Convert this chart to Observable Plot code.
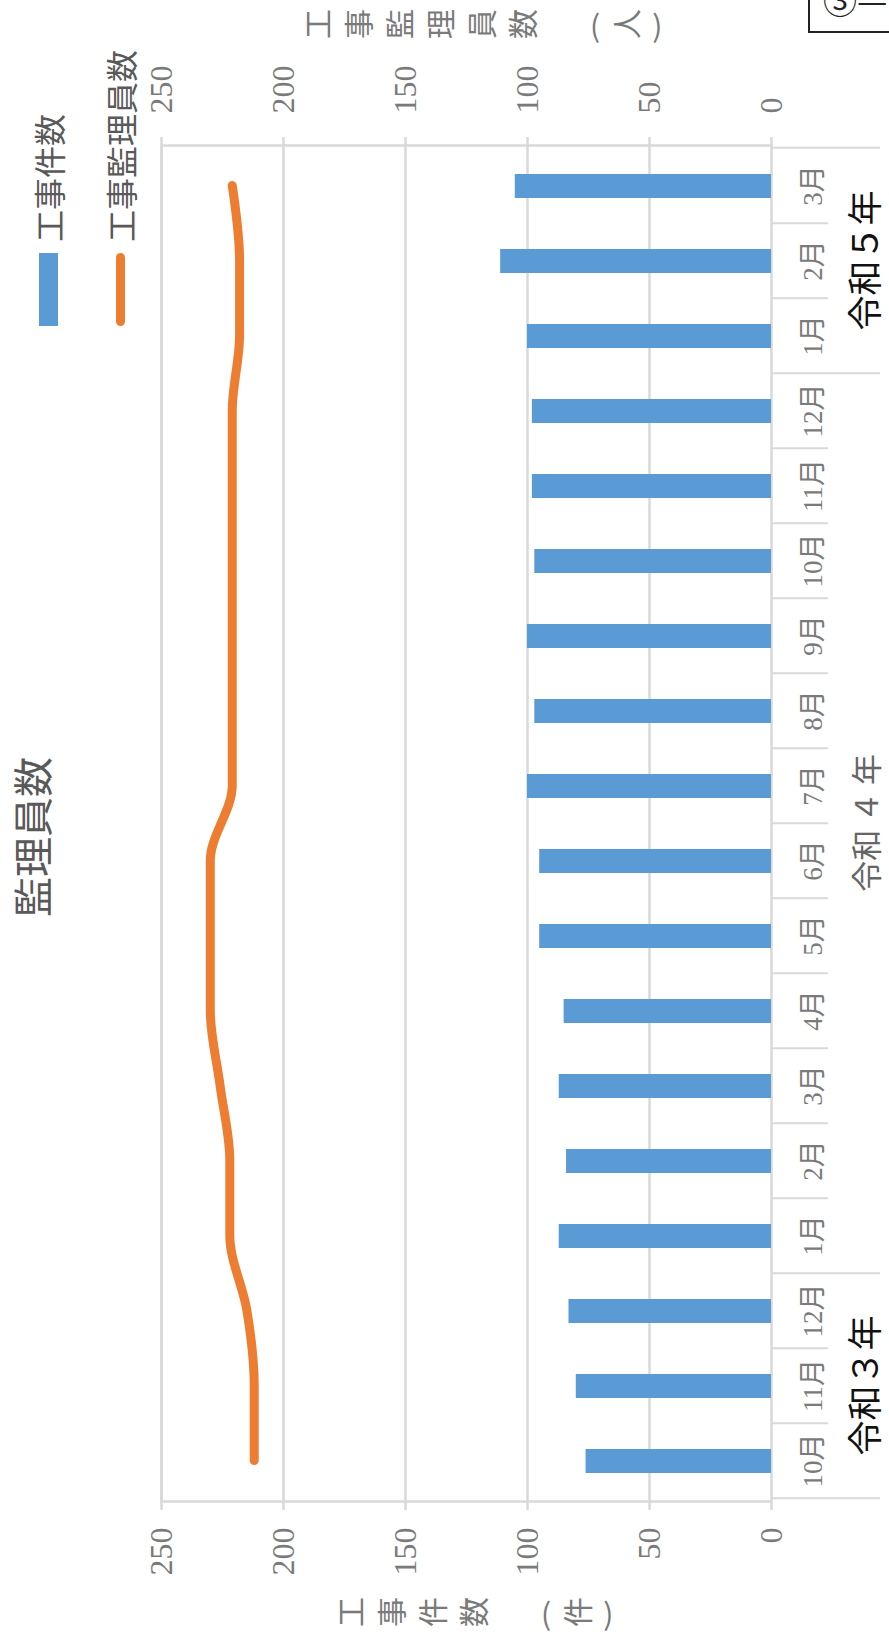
<!DOCTYPE html>
<html>
<head>
<meta charset="utf-8">
<script src="https://cdn.jsdelivr.net/npm/d3@7"></script>
<script src="https://cdn.jsdelivr.net/npm/@observablehq/plot@0.6"></script>
<style>
  html, body { margin: 0; padding: 0; background: #fff; width: 889px; height: 1635px; overflow: hidden; font-family: "Noto Sans CJK JP", sans-serif; }
  #rot { position: absolute; left: 0; top: 0; width: 1635px; height: 889px; transform-origin: 0 0; transform: translateY(1635px) rotate(-90deg); }
  #rot > svg { position: absolute; left: 0; top: 0; }
  .abs { position: absolute; white-space: nowrap; }
  .title { left: 598px; width: 400px; top: 11px; text-align: center; font-size: 40px; line-height: 40px; color: #595959; }
  .legtext { font-size: 32px; line-height: 32px; color: #595959; }
  .vtitle { writing-mode: vertical-rl; font-family: "Noto Sans CJK JP", sans-serif; font-size: 30px; line-height: 30px; letter-spacing: 11px; color: #7a7a7a; }
  #stamp { position: absolute; left: 808px; top: -20px; width: 120px; height: 49px; border: 2px solid #222; box-sizing: content-box; font-family: "Noto Sans CJK JP", serif; font-size: 34px; line-height: 36px; padding-left: 13px; color: #222; }
</style>
</head>
<body>
<div id="rot"></div>
<div id="stamp">③—</div>
<script>
// ---- data ----
const monthLabels = ["10月","11月","12月","1月","2月","3月","4月","5月","6月","7月","8月","9月","10月","11月","12月","1月","2月","3月"];
const monthYear   = ["R3","R3","R3","R4","R4","R4","R4","R4","R4","R4","R4","R4","R4","R4","R4","R5","R5","R5"];
const yearCodes   = ["R3","R4","R5"];
const yearLabels  = ["令和３年","令和 ４ 年","令和５年"];
const workCounts       = [76, 80, 83, 87, 84, 87, 85, 95, 95, 100, 97, 100, 97, 98, 98, 100, 111, 105];
const supervisorCounts = [212, 212, 215, 222, 222, 226, 230, 230, 230, 221, 221, 221, 221, 221, 221, 218, 218, 221];
const valueTicks = [0, 50, 100, 150, 200, 250];
const seriesNames = ["工事件数", "工事監理員数"];
const axisTitleLeft = "工事件数　(件)";
const axisTitleRight = "工事監理員数　(人)";
const chartTitle = "監理員数";

// ---- layout ----
const W = 1635, H = 889;
const mL = 133, mR = 146, mT = 161, mB = 118;
const BLUE = "#5B9BD5", ORANGE = "#ED7D31", GRID = "#D9D9D9", TICKTXT = "#7a7a7a";
const SERIF = "'Liberation Serif', 'DejaVu Serif', 'Noto Sans CJK JP', serif";

const keys = monthLabels.map((m, i) => monthYear[i] + "-" + m);
const data = keys.map((k, i) => ({key: k, month: monthLabels[i], year: monthYear[i], works: workCounts[i], sup: supervisorCounts[i]}));
const step = (W - mL - mR) / keys.length;

// group boundaries
const groups = yearCodes.map((code, gi) => {
  const idx = data.map((d, i) => d.year === code ? i : -1).filter(i => i >= 0);
  return {code, label: yearLabels[gi], first: idx[0], last: idx[idx.length - 1]};
});

const shortSep = data.filter((d, i) => !groups.some(g => g.first === i));
const longSep = groups.map(g => data[g.first]);

const yearMarks = groups.map((g) => {
  const mid = (g.first + g.last) / 2;
  const base = Math.floor(mid);
  return Plot.text([data[base]], {
    x: "key", text: () => g.label, frameAnchor: "bottom", dy: 106, dx: (mid - base) * step,
    fontSize: g.code === "R4" ? 31 : 35, fill: g.code === "R4" ? "#666" : "#111",
    fontFamily: "'Noto Sans CJK JP', sans-serif"
  });
});

const chart = Plot.plot({
  width: W, height: H,
  marginLeft: mL, marginRight: mR, marginTop: mT, marginBottom: mB,
  style: {background: "transparent", overflow: "visible", fontFamily: SERIF},
  x: {type: "band", domain: keys, paddingInner: 0.68, paddingOuter: 0.34, axis: null},
  y: {domain: [0, 250], axis: null},
  marks: [
    Plot.ruleY(valueTicks.slice(1), {stroke: GRID, strokeWidth: 2.5}),
    Plot.frame({stroke: GRID, strokeWidth: 2.5}),
    Plot.axisY({anchor: "left", ticks: valueTicks, tickSize: 8, tickPadding: 18, stroke: GRID, strokeWidth: 2.5, fill: TICKTXT, fontSize: 32, fontFamily: SERIF, label: null}),
    Plot.axisY({anchor: "right", ticks: valueTicks, tickSize: 8, tickPadding: 24, stroke: GRID, strokeWidth: 2.5, fill: TICKTXT, fontSize: 32, fontFamily: SERIF, label: null}),
    // category separators
    Plot.ruleX(shortSep, {x: "key", y1: 0, y2: 0, dx: -step / 2, insetTop: 0, insetBottom: -57, stroke: GRID, strokeWidth: 2}),
    Plot.ruleX(longSep, {x: "key", y1: 0, y2: 0, dx: -step / 2, insetTop: 0, insetBottom: -109, stroke: GRID, strokeWidth: 2}),
    Plot.ruleX([data[data.length - 1]], {x: "key", y1: 0, y2: 0, dx: step / 2, insetTop: 0, insetBottom: -109, stroke: GRID, strokeWidth: 2}),
    Plot.barY(data, {x: "key", y: "works", fill: BLUE}),
    Plot.line(data, {x: "key", y: "sup", stroke: ORANGE, strokeWidth: 9, curve: "monotone-x", strokeLinecap: "round", strokeLinejoin: "round"}),
    Plot.text(data, {x: "key", text: "month", frameAnchor: "bottom", dy: 50, fontSize: 27, fill: TICKTXT, fontFamily: SERIF}),
    ...yearMarks
  ]
});

const rot = document.getElementById("rot");
rot.appendChild(chart);

function addDiv(cls, text, css) {
  const d = document.createElement("div");
  d.className = "abs " + cls;
  d.textContent = text;
  Object.assign(d.style, css || {});
  rot.appendChild(d);
  return d;
}
addDiv("title", chartTitle);
// legend
addDiv("", "", {left: "1309px", top: "39px", width: "73px", height: "19px", background: BLUE});
addDiv("legtext", seriesNames[0], {left: "1393px", top: "32px"});
addDiv("", "", {left: "1309px", top: "115.5px", width: "73px", height: "9px", background: ORANGE, borderRadius: "5px"});
addDiv("legtext", seriesNames[1], {left: "1393px", top: "104px"});
// axis titles (vertical)
addDiv("vtitle", axisTitleLeft, {left: "8px", top: "336px"});
addDiv("vtitle", axisTitleRight, {left: "1596px", top: "303px"});
</script>
</body>
</html>
